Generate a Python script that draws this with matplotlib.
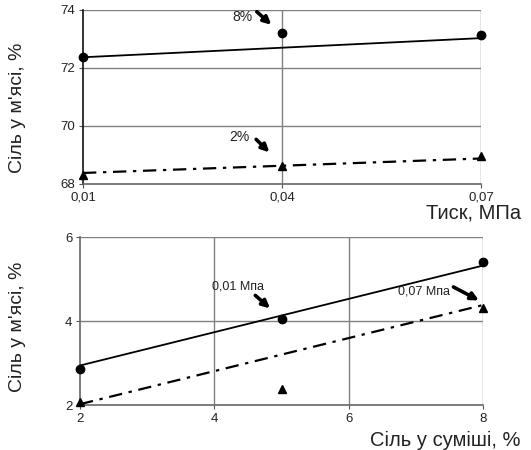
import matplotlib.pyplot as plt

plt.rcParams['font.family'] = ['Liberation Sans', 'DejaVu Sans']

# top chart: salt in meat vs pressure
pressure = [0.01, 0.04, 0.07]
salt_8 = [72.38, 73.20, 73.14]
salt_2 = [68.32, 68.63, 68.95]
trend_8 = [72.37, 73.03]
trend_2 = [68.38, 68.88]
press_ticks = [0.01, 0.04, 0.07]
press_labels = ['0,01', '0,04', '0,07']

# bottom chart: salt in meat vs salt in mix
mix = [2, 5, 8]
meat_001 = [2.85, 4.04, 5.40]
meat_007 = [2.06, 2.38, 4.30]
trend_001 = [2.94, 5.32]
trend_007 = [2.02, 4.38]

W, H = 531, 450
fig = plt.figure(figsize=(W / 100, H / 100), dpi=100)
ax1 = fig.add_axes([83 / W, 1 - 184 / H, 398 / W, 174 / H])
ax2 = fig.add_axes([80 / W, 1 - 405 / H, 403 / W, 168 / H])

grey = '#808080'
dd = (6, 3, 1.5, 3)

def style(ax, left_color):
    for s in ['top', 'right']:
        ax.spines[s].set_visible(False)
    ax.spines['left'].set_color(left_color)
    ax.spines['left'].set_linewidth(1.2)
    ax.spines['bottom'].set_color('#666666')
    ax.spines['bottom'].set_linewidth(1.2)
    ax.tick_params(length=3, width=0.8, color='#555555', labelsize=9.5, pad=2.5,
                   labelcolor='#222222')
    ax.set_axisbelow(True)

# ---- top
ax1.plot(pressure, salt_8, 'o', color='black', ms=6, zorder=4, clip_on=False)
ax1.plot([pressure[0], pressure[-1]], trend_8, '-', color='black', lw=1.3, zorder=3)
ax1.plot(pressure, salt_2, '^', color='black', ms=6, zorder=4, clip_on=False)
ax1.plot([pressure[0], pressure[-1]], trend_2, color='black', lw=1.6, dashes=dd, zorder=3)
ax1.set_xlim(0.01, 0.07)
ax1.set_ylim(68, 74)
ax1.set_xticks(press_ticks)
ax1.set_xticklabels(press_labels)
ax1.set_yticks([68, 70, 72, 74])
for y in [70, 72, 74]:
    ax1.axhline(y, color=grey, lw=1.0, zorder=1)
for x in [0.04, 0.07]:
    ax1.axvline(x, color=grey, lw=1.0, zorder=1)
style(ax1, '#111111')

arrow = dict(arrowstyle='-|>', color='black', lw=2.6, mutation_scale=11, shrinkA=0, shrinkB=0)
ax1.text(0.0356, 73.77, '8%', ha='right', va='center', fontsize=10, color='#222222')
ax1.annotate('', xy=(0.0384, 73.49), xytext=(0.0362, 73.94), arrowprops=arrow)
ax1.text(0.0351, 69.63, '2%', ha='right', va='center', fontsize=10, color='#222222')
ax1.annotate('', xy=(0.0381, 69.09), xytext=(0.0361, 69.54), arrowprops=arrow)

# ---- bottom
ax2.plot(mix, meat_001, 'o', color='black', ms=6, zorder=4, clip_on=False)
ax2.plot([mix[0], mix[-1]], trend_001, '-', color='black', lw=1.3, zorder=3)
ax2.plot(mix, meat_007, '^', color='black', ms=6, zorder=4, clip_on=False)
ax2.plot([mix[0], mix[-1]], trend_007, color='black', lw=1.6, dashes=dd, zorder=3)
ax2.set_xlim(2, 8)
ax2.set_ylim(2, 6)
ax2.set_xticks([2, 4, 6, 8])
ax2.set_yticks([2, 4, 6])
ax2.axhline(4, color=grey, lw=1.0, zorder=1)
ax2.axhline(6, color=grey, lw=1.0, zorder=1)
for x in [4, 6, 8]:
    ax2.axvline(x, color=grey, lw=1.0, zorder=1)
style(ax2, '#666666')

ax2.text(3.97, 4.81, '0,01 Мпа', ha='left', va='center', fontsize=9, color='#222222')
ax2.annotate('', xy=(4.83, 4.30), xytext=(4.61, 4.61), arrowprops=arrow)
ax2.text(7.51, 4.71, '0,07 Мпа', ha='right', va='center', fontsize=9, color='#222222')
ax2.annotate('', xy=(7.94, 4.49), xytext=(7.56, 4.81), arrowprops=arrow)

# axis titles
fig.text(18 / W, 1 - 108 / H, "Сіль у м'ясі, %", rotation=90, ha='center', va='center', fontsize=14, color='#222222')
fig.text(18 / W, 1 - 327 / H, "Сіль у м'ясі, %", rotation=90, ha='center', va='center', fontsize=14, color='#222222')
fig.text(521 / W, 1 - 213 / H, 'Тиск, МПа', ha='right', va='center', fontsize=14.5, color='#222222')
fig.text(521 / W, 1 - 440 / H, 'Сіль у суміші, %', ha='right', va='center', fontsize=14.5, color='#222222')

fig.savefig('out.png', dpi=100, facecolor='white')
